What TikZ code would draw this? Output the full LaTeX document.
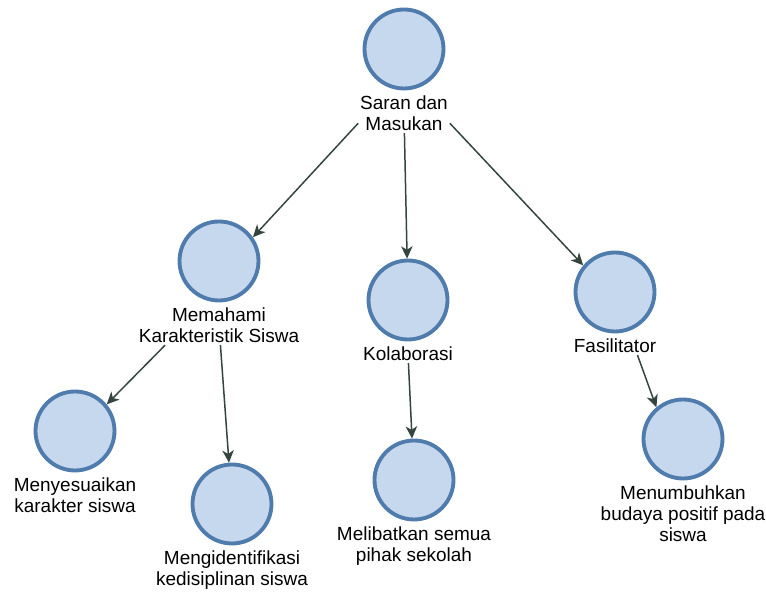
\documentclass[tikz,border=0pt]{standalone}
\usepackage{fontspec}
\setmainfont{Liberation Sans}
\usetikzlibrary{arrows.meta,positioning}
\definecolor{ringc}{HTML}{4F7CAC}
\definecolor{fillc}{HTML}{C6D8EE}
\definecolor{arrc}{HTML}{34453F}

\begin{document}
\begin{tikzpicture}[
  bub/.style={circle, draw=ringc, fill=fillc, line width=2.2pt, minimum size=1.58cm},
  lbl/.style={align=center, inner sep=1pt, font=\fontsize{10.8pt}{12pt}\selectfont},
  link/.style={-{Stealth[length=7pt,width=6.5pt,inset=2pt]}, arrc, line width=0.85pt}
]
\useasboundingbox (0,0) rectangle (15.32,11.84);
% circles
\node[bub] (saran) at (8.08,10.86) {};
\node[bub] (memahami) at (4.38,6.62) {};
\node[bub] (kolaborasi) at (8.16,5.84) {};
\node[bub] (fasilitator) at (12.30,6.00) {};
\node[bub] (menyesuaikan) at (1.50,3.22) {};
\node[bub] (mengidentifikasi) at (4.64,1.76) {};
\node[bub] (melibatkan) at (8.28,2.24) {};
\node[bub] (menumbuhkan) at (13.66,3.06) {};

% labels under the circles
\node[lbl, below=2pt of saran] (saranlbl) {Saran dan\\Masukan};
\node[lbl, below=2pt of memahami] (memahamilbl) {Memahami\\Karakteristik Siswa};
\node[lbl, below=2pt of kolaborasi] (kolaborasilbl) {Kolaborasi};
\node[lbl, below=2pt of fasilitator] (fasilitatorlbl) {Fasilitator};
\node[lbl, below=2pt of menyesuaikan] (menyesuaikanlbl) {Menyesuaikan\\karakter siswa};
\node[lbl, below=2pt of mengidentifikasi] (mengidentifikasilbl) {Mengidentifikasi\\kedisiplinan siswa};
\node[lbl, below=2pt of melibatkan] (melibatkanlbl) {Melibatkan semua\\pihak sekolah};
\node[lbl, below=2pt of menumbuhkan] (menumbuhkanlbl) {Menumbuhkan\\budaya positif pada\\siswa};

% arrows
\draw[link] (saranlbl.192) -- (memahami.35);
\draw[link] (saranlbl) -- (kolaborasi);
\draw[link] (saranlbl.-12) -- (fasilitator.140);
\draw[link] (memahamilbl.200) -- (menyesuaikan.40);
\draw[link] (memahamilbl) -- (mengidentifikasi);
\draw[link] (kolaborasilbl) -- (melibatkan);
\draw[link] (fasilitatorlbl.-22) -- (menumbuhkan.130);

\end{tikzpicture}
\end{document}
